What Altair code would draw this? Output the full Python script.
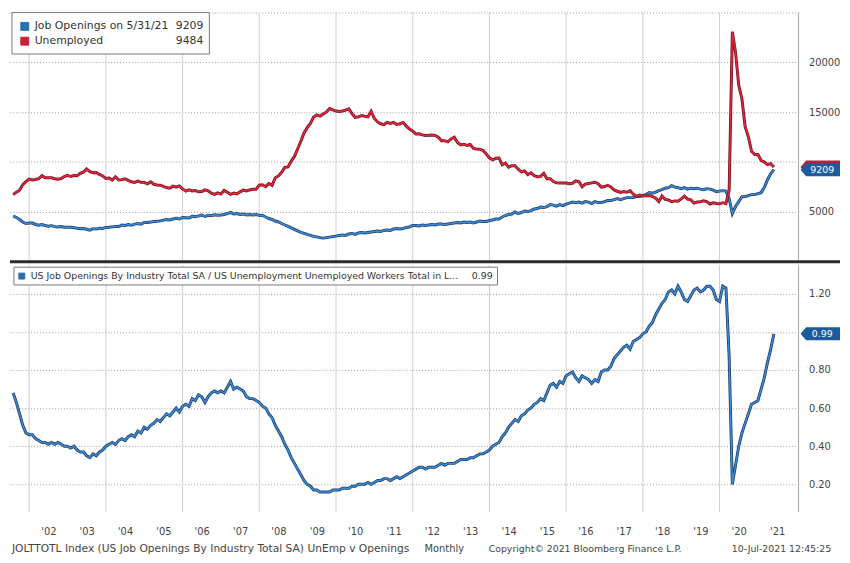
import altair as alt
import pandas as pd

# ---------------- data (monthly, month-end, Jul 2001 .. May 2021) ----------------
START_YEAR = 2001
START_MONTH = 7

# US unemployed persons, thousands
unemployed = [
    6700, 6950, 7140, 7690, 8000, 8260,  # 2001 Jul-Dec
    8180, 8220, 8300, 8600, 8400, 8390, 8390, 8300, 8250, 8310, 8520, 8640,  # 2002
    8520, 8620, 8590, 8840, 8960, 9270, 9010, 8900, 8920, 8730, 8580, 8320,  # 2003
    8370, 8170, 8490, 8170, 8210, 8290, 8140, 7990, 7930, 8060, 7930, 7930,  # 2004
    7780, 7980, 7740, 7670, 7650, 7520, 7410, 7350, 7550, 7450, 7570, 7280,  # 2005
    7060, 7180, 7070, 7120, 6980, 7000, 7180, 7090, 6850, 6730, 6870, 6760,  # 2006
    7120, 6930, 6730, 6850, 6770, 6980, 7150, 7070, 7170, 7240, 7240, 7650,  # 2007
    7690, 7500, 7820, 7640, 8400, 8580, 8940, 9440, 9490, 10070, 10540, 11290,  # 2008
    12060, 12900, 13430, 13850, 14500, 14710, 14600, 14810, 15010, 15350, 15220, 15100,  # 2009
    15050, 15110, 15200, 15330, 14850, 14470, 14510, 14650, 14580, 14520, 15080, 14350,  # 2010
    14010, 13820, 13740, 13960, 13860, 13960, 13760, 13820, 13950, 13590, 13300, 13090,  # 2011
    12800, 12810, 12710, 12650, 12660, 12690, 12660, 12470, 12120, 12120, 12010, 12300,  # 2012
    12470, 11950, 11690, 11760, 11650, 11750, 11340, 11280, 11270, 11140, 10790, 10400,  # 2013
    10200, 10350, 10380, 9700, 9860, 9460, 9610, 9600, 9260, 8990, 9090, 8720,  # 2014
    8900, 8610, 8500, 8530, 8840, 8290, 8300, 8020, 7880, 7870, 7870, 7860,  # 2015
    7790, 7840, 8080, 7990, 7490, 7760, 7810, 7880, 7950, 7790, 7460, 7510,  # 2016
    7640, 7480, 7170, 7040, 6930, 7020, 6940, 7080, 6740, 6520, 6660, 6570,  # 2017
    6580, 6620, 6510, 6330, 6000, 6570, 6220, 6160, 6000, 6070, 6030, 6270,  # 2018
    6540, 6240, 6170, 5850, 5960, 5980, 6070, 6000, 5760, 5880, 5810, 5780,  # 2019
    5890, 5790, 7140, 23080, 20990, 17700, 16310, 13540, 12540, 11050, 10730, 10740,  # 2020
    10130, 9970, 9710, 9810, 9484,  # 2021 Jan-May
]

# US job openings, thousands
openings = [
    4550, 4400, 4200, 3950, 3800, 3850,  # 2001 Jul-Dec
    3840, 3700, 3620, 3700, 3600, 3520, 3580, 3480, 3440, 3500, 3430, 3420,  # 2002
    3420, 3380, 3320, 3280, 3300, 3220, 3130, 3280, 3240, 3330, 3300, 3400,  # 2003
    3420, 3460, 3500, 3490, 3640, 3600, 3700, 3620, 3740, 3800, 3720, 3900,  # 2004
    3900, 3940, 4000, 4020, 4060, 4140, 4200, 4150, 4250, 4320, 4250, 4400,  # 2005
    4380, 4350, 4520, 4480, 4560, 4650, 4500, 4620, 4580, 4680, 4620, 4650,  # 2006
    4700, 4800, 4920, 4750, 4800, 4700, 4760, 4650, 4700, 4660, 4700, 4620,  # 2007
    4600, 4450, 4300, 4200, 4050, 3950, 3800, 3650, 3500, 3350, 3200, 3050,  # 2008
    2900, 2800, 2700, 2600, 2500, 2450, 2380, 2330, 2380, 2430, 2480, 2530,  # 2009
    2600, 2650, 2600, 2750, 2800, 2700, 2850, 2900, 2850, 2900, 2950, 3000,  # 2010
    3050, 3000, 3100, 3150, 3100, 3250, 3300, 3250, 3300, 3400, 3450, 3600,  # 2011
    3600, 3550, 3650, 3600, 3650, 3700, 3650, 3750, 3750, 3700, 3750, 3800,  # 2012
    3850, 3900, 3850, 3950, 3900, 3950, 3850, 3950, 4050, 4000, 4000, 4100,  # 2013
    4150, 4250, 4250, 4450, 4600, 4700, 4750, 4950, 4800, 4900, 5050, 5000,  # 2014
    5100, 5250, 5300, 5450, 5400, 5500, 5700, 5650, 5550, 5700, 5600, 5750,  # 2015
    5850, 5950, 5900, 5950, 5850, 6000, 5950, 5800, 6000, 5900, 5900, 6000,  # 2016
    6100, 6100, 6200, 6300, 6200, 6300, 6400, 6400, 6400, 6500, 6500, 6600,  # 2017
    6700, 6900, 6850, 6950, 7100, 7200, 7350, 7400, 7600, 7450, 7400, 7300,  # 2018
    7400, 7250, 7350, 7300, 7350, 7250, 7200, 7300, 7250, 7150, 7000, 7050,  # 2019
    7100, 7050, 6300, 4800, 5500, 6000, 6500, 6500, 6600, 6700, 6700, 6800,  # 2020
    6900, 7400, 8200, 8800, 9209,  # 2021 Jan-May
]

# Job openings / unemployed workers (Bloomberg ratio series)
ratio = [
    0.68, 0.63, 0.57, 0.51, 0.47, 0.46,  # 2001 Jul-Dec
    0.46, 0.44, 0.43, 0.42, 0.42, 0.41, 0.42, 0.41, 0.42, 0.41, 0.40, 0.40,  # 2002
    0.39, 0.40, 0.38, 0.37, 0.37, 0.35, 0.34, 0.36, 0.35, 0.37, 0.38, 0.40,  # 2003
    0.41, 0.42, 0.41, 0.43, 0.44, 0.43, 0.45, 0.46, 0.45, 0.48, 0.47, 0.50,  # 2004
    0.49, 0.51, 0.52, 0.54, 0.53, 0.55, 0.57, 0.56, 0.58, 0.60, 0.58, 0.61,  # 2005
    0.62, 0.61, 0.65, 0.64, 0.67, 0.66, 0.63, 0.66, 0.68, 0.69, 0.68, 0.69,  # 2006
    0.68, 0.71, 0.74, 0.70, 0.71, 0.70, 0.69, 0.66, 0.65, 0.65, 0.64, 0.63,  # 2007
    0.61, 0.60, 0.57, 0.55, 0.51, 0.48, 0.45, 0.41, 0.38, 0.34, 0.31, 0.28,  # 2008
    0.25, 0.22, 0.20, 0.19, 0.17, 0.17, 0.16, 0.16, 0.16, 0.16, 0.17, 0.17,  # 2009
    0.17, 0.18, 0.18, 0.18, 0.19, 0.19, 0.20, 0.20, 0.20, 0.21, 0.20, 0.21,  # 2010
    0.22, 0.22, 0.23, 0.23, 0.22, 0.23, 0.24, 0.23, 0.24, 0.25, 0.26, 0.27,  # 2011
    0.28, 0.29, 0.29, 0.28, 0.29, 0.29, 0.29, 0.30, 0.31, 0.30, 0.31, 0.31,  # 2012
    0.31, 0.32, 0.33, 0.33, 0.33, 0.34, 0.34, 0.35, 0.36, 0.36, 0.37, 0.38,  # 2013
    0.40, 0.41, 0.42, 0.45, 0.47, 0.50, 0.52, 0.54, 0.53, 0.56, 0.57, 0.59,  # 2014
    0.60, 0.62, 0.63, 0.65, 0.64, 0.68, 0.72, 0.73, 0.71, 0.74, 0.73, 0.77,  # 2015
    0.78, 0.79, 0.76, 0.74, 0.77, 0.76, 0.75, 0.73, 0.75, 0.74, 0.79, 0.80,  # 2016
    0.80, 0.82, 0.86, 0.88, 0.90, 0.92, 0.93, 0.91, 0.95, 0.96, 0.97, 0.99,  # 2017
    1.00, 1.03, 1.05, 1.09, 1.12, 1.15, 1.17, 1.21, 1.22, 1.20, 1.24, 1.21,  # 2018
    1.17, 1.16, 1.19, 1.22, 1.23, 1.21, 1.22, 1.24, 1.24, 1.22, 1.17, 1.16,  # 2019
    1.24, 1.23, 0.87, 0.20, 0.30, 0.40, 0.47, 0.52, 0.57, 0.62, 0.63, 0.64,  # 2020
    0.70, 0.76, 0.84, 0.91, 0.99,  # 2021 Jan-May
]

# axis / label texts
year_label_positions = [y + 0.5 for y in range(2002, 2022)]
grid_years = list(range(2002, 2022, 2))
top_y_ticks = [5000, 10000, 15000, 20000, 25000]
bottom_y_ticks = [0.2, 0.4, 0.6, 0.8, 1.0, 1.2]

legend_openings = "Job Openings on 5/31/21"
legend_unemployed = "Unemployed"
legend_ratio = "US Job Openings By Industry Total SA / US Unemployment Unemployed Workers Total in L..."
footer_left = "JOLTTOTL Index (US Job Openings By Industry Total SA) UnEmp v Openings"
footer_freq = "Monthly"
footer_mid = "Copyright\u00a9 2021 Bloomberg Finance L.P."
footer_right = "10-Jul-2021 12:45:25"

n = len(ratio)
assert len(unemployed) == n and len(openings) == n, (len(unemployed), len(openings), n)
t = [START_YEAR + (START_MONTH + i) / 12 for i in range(n)]

df = pd.DataFrame({"t": t, "openings": openings, "unemployed": unemployed, "ratio": ratio})
grid_df = pd.DataFrame({"yr": grid_years})
one = pd.DataFrame({"a": [0]})

# ---------------- styling ----------------
W = 799
H_TOP = 252
H_BOT = 250
FONT = "DejaVu Sans"
BLUE_CORE = "#3d8ad6"
BLUE_EDGE = "#1b3d66"
RED_CORE = "#e5263f"
RED_EDGE = "#74121f"
BADGE_BLUE = "#1d5c9c"
BADGE_RED = "#b8203a"
GRID_V = "#cfcfcf"
GRID_H = "#9a9a9a"
LABEL = "#444444"
BADGE = "M -1 0 L -0.72 -0.33 L 1 -0.33 L 1 0.33 L -0.72 0.33 Z"

xscale = alt.Scale(domain=[2001.5, 2022.06], nice=False, zero=False)
x_none = alt.Axis(labels=False, ticks=False, domain=False, grid=False, title=None)
x_bottom = alt.Axis(
    values=year_label_positions,
    labelExpr="\"'\" + (floor(datum.value) % 100 < 10 ? '0' : '') + (floor(datum.value) % 100)",
    grid=False, ticks=False, domain=False, labelPadding=15,
    labelFontSize=10, labelColor=LABEL, labelFont=FONT, title=None,
)

top_yscale = alt.Scale(domain=[0, 25000], nice=False, zero=False)
top_yaxis = alt.Axis(
    orient="right", values=top_y_ticks, format="d",
    labelExpr="datum.value == 10000 || datum.value == 25000 ? '' : datum.label",
    grid=True, gridColor=GRID_H, gridDash=[1, 2], ticks=False, domain=False,
    labelPadding=10, labelFontSize=10, labelColor=LABEL, labelFont=FONT, title=None,
)
bot_yscale = alt.Scale(domain=[0.055, 1.35], nice=False, zero=False)
bot_yaxis = alt.Axis(
    orient="right", values=bottom_y_ticks, format=".2f",
    labelExpr="abs(datum.value - 1) < 0.001 ? '' : datum.label",
    grid=True, gridColor=GRID_H, gridDash=[1, 2], ticks=False, domain=False,
    labelPadding=10, labelFontSize=10, labelColor=LABEL, labelFont=FONT, title=None,
)


def vgrid(xaxis):
    return alt.Chart(grid_df).mark_rule(color=GRID_V, strokeWidth=1).encode(
        x=alt.X("yr:Q", scale=xscale, axis=xaxis)
    )


def series(field, yscale, yaxis, xaxis, edge, core):
    base = alt.Chart(df).encode(
        x=alt.X("t:Q", scale=xscale, axis=xaxis),
        y=alt.Y(f"{field}:Q", scale=yscale, axis=yaxis),
    )
    return [
        base.mark_line(color=edge, strokeWidth=3.0, clip=True),
        base.mark_line(color=core, strokeWidth=1.5, clip=True),
    ]


def txt(s, x, y, align="left", size=10, color="#333333"):
    return alt.Chart(one).mark_text(
        align=align, baseline="middle", fontSize=size, color=color, font=FONT
    ).encode(x=alt.value(x), y=alt.value(y), text=alt.value(s))


def box(x1, x2, y1, y2, fill="white", stroke="#777777"):
    return alt.Chart(one).mark_rect(fill=fill, stroke=stroke, strokeWidth=1).encode(
        x=alt.value(x1), x2=alt.value(x2), y=alt.value(y1), y2=alt.value(y2)
    )


def badge(value, label, yscale, yaxis, color, with_text=True):
    bdf = pd.DataFrame({"v": [value], "lab": [label]})
    layers = [
        alt.Chart(bdf).mark_point(shape=BADGE, size=1600, filled=True, color=color,
                                  opacity=1, strokeWidth=0).encode(
            x=alt.value(W + 22), y=alt.Y("v:Q", scale=yscale, axis=yaxis))
    ]
    if with_text:
        layers.append(
            alt.Chart(bdf).mark_text(color="white", fontSize=9.5, font=FONT,
                                     align="center", baseline="middle").encode(
                x=alt.value(W + 24), y=alt.Y("v:Q", scale=yscale, axis=yaxis), text="lab:N")
        )
    return layers


border = alt.Chart(one).mark_rule(color="#a8a8a8", strokeWidth=1).encode(x=alt.value(W))

# ---------------- top panel ----------------
top_layers = [vgrid(x_none), border]
top_layers += series("openings", top_yscale, top_yaxis, x_none, BLUE_EDGE, BLUE_CORE)
top_layers += series("unemployed", top_yscale, top_yaxis, x_none, RED_EDGE, RED_CORE)
top_layers += [
    box(2, 202, 0, 42),
    box(11, 19, 10, 18, fill="#2a6fb0", stroke="#2a6fb0"),
    box(11, 19, 25, 33, fill="#c8203a", stroke="#c8203a"),
    txt(legend_openings, 25, 14, size=11),
    txt(f"{openings[-1]}", 196, 14, align="right", size=11),
    txt(legend_unemployed, 25, 29, size=11),
    txt(f"{unemployed[-1]}", 196, 29, align="right", size=11),
]
top_layers += badge(unemployed[-1], "", top_yscale, top_yaxis, BADGE_RED, with_text=False)
top_layers += badge(openings[-1], f"{openings[-1]}", top_yscale, top_yaxis, BADGE_BLUE)
top_layers += [
    alt.Chart(one).mark_rule(color="#2a2a2a", strokeWidth=3).encode(
        x=alt.value(0), x2=alt.value(W + 42), y=alt.value(H_TOP + 0.5))
]
top = alt.layer(*top_layers).properties(width=W, height=H_TOP)

# ---------------- bottom panel ----------------
bot_layers = [vgrid(x_bottom), border]
bot_layers += series("ratio", bot_yscale, bot_yaxis, x_bottom, BLUE_EDGE, BLUE_CORE)
bot_layers += [
    box(4, 494, 2, 20),
    box(9, 15, 8, 14, fill="#2a6fb0", stroke="#2a6fb0"),
    txt(legend_ratio, 21, 11, size=9.5),
    txt(f"{ratio[-1]:.2f}", 489, 11, align="right", size=9.5),
]
bot_layers += badge(ratio[-1], f"{ratio[-1]:.2f}", bot_yscale, bot_yaxis, BADGE_BLUE)
bot_layers += [
    txt(footer_left, 2, H_BOT + 38, size=10.8, color=LABEL),
    txt(footer_freq, 420, H_BOT + 38, size=10, color=LABEL),
    txt(footer_mid, 485, H_BOT + 38, size=9.5, color=LABEL),
    txt(footer_right, 832, H_BOT + 38, align="right", size=9.5, color=LABEL),
]
bottom = alt.layer(*bot_layers).properties(width=W, height=H_BOT)

chart = (
    alt.vconcat(top, bottom, spacing=1)
    .properties(padding={"left": 0, "top": 0, "right": 0, "bottom": 0}, background="white")
    .configure(font=FONT)
    .configure_view(stroke=None)
)

chart.save("out.html", embed_options={"renderer": "svg", "actions": False})
